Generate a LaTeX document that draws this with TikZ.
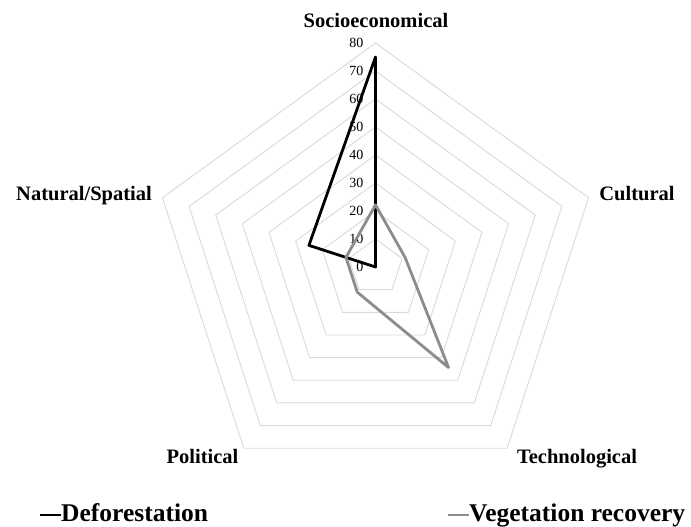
\documentclass[tikz,border=0pt]{standalone}
\usepackage{fontspec}
\setmainfont{Liberation Serif}
\definecolor{gridgray}{RGB}{217,217,217}
\definecolor{veggray}{RGB}{140,140,140}
\begin{document}
\begin{tikzpicture}[x=1pt,y=1pt,
  ring/.style={draw=gridgray, line width=0.9pt},
  axlabel/.style={font=\fontsize{20.5}{20.5}\selectfont\bfseries, inner sep=0pt, anchor=base},
  tick/.style={font=\fontsize{14}{14}\selectfont, anchor=east, inner sep=0pt},
  defo/.style={draw=black, line width=2.8pt, line join=round},
  vege/.style={draw=veggray, line width=2.8pt, line join=round},
  legtext/.style={font=\fontsize{25.5}{25.5}\selectfont\bfseries, inner sep=0pt, anchor=base west},
]
\useasboundingbox (0,0) rectangle (691,527);
\coordinate (C) at (375.5,260);
\begin{scope}[shift={(C)}]
  % grid rings
  \foreach \v in {1,...,8} {
    \pgfmathsetmacro\r{28*\v}
    \draw[ring] (90:\r) -- (18:\r) -- (-54:\r) -- (-126:\r) -- (162:\r) -- cycle;
  }
  % tick labels
  \foreach \v in {0,...,8} {
    \node[tick] (tick\v) at (-12,28*\v) {\the\numexpr\v*10\relax};
  }
  % data points
  \coordinate (d1) at (90:210);
  \coordinate (d2) at (0,0);
  \coordinate (d3) at (0,0);
  \coordinate (d4) at (0,0);
  \coordinate (d5) at (162:70);
  \coordinate (v1) at (90:62.16);
  \coordinate (v2) at (18:31.08);
  \coordinate (v3) at (-54:124.32);
  \coordinate (v4) at (-126:31.08);
  \coordinate (v5) at (162:31.08);
\end{scope}
\draw[defo] (d1) -- (d2) -- (d3) -- (d4) -- (d5) -- cycle;
\draw[vege] (v1) -- (v2) -- (v3) -- (v4) -- (v5) -- cycle;
% axis labels
\node[axlabel] (socio) at (376,499) {Socioeconomical};
\node[axlabel] (cult) at (637,326) {Cultural};
\node[axlabel] (tech) at (577,63) {Technological};
\node[axlabel] (poli) at (202.5,63) {Political};
\node[axlabel] (natu) at (84,326) {Natural/Spatial};
% legend
\coordinate (k1a) at (40,12);
\coordinate (k1b) at (61,12);
\coordinate (k2a) at (448,12);
\coordinate (k2b) at (469,12);
\draw[defo, line cap=butt] (k1a) -- (k1b);
\draw[vege, line cap=butt] (k2a) -- (k2b);
\node[legtext] (leg1) at (61,5) {Deforestation};
\node[legtext] (leg2) at (469,5) {Vegetation recovery};
\end{tikzpicture}
\end{document}
